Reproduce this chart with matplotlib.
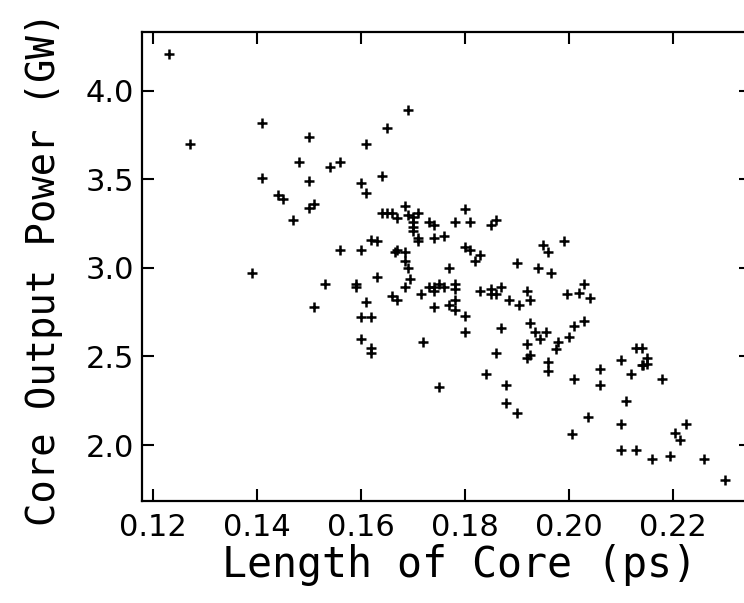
import matplotlib
matplotlib.use("Agg")
import matplotlib.pyplot as plt

# Data
length_ps = [
    0.123, 0.127, 0.141, 0.150, 0.161, 0.165, 0.169, 0.148, 0.154, 0.156,
    0.141, 0.150, 0.160, 0.164, 0.161, 0.144, 0.145, 0.150, 0.151, 0.147,
    0.164, 0.165, 0.166, 0.167, 0.162, 0.163, 0.156, 0.160, 0.1665, 0.167,
    0.139, 0.153, 0.159, 0.159, 0.163, 0.166, 0.167, 0.151, 0.161, 0.160,
    0.162, 0.160, 0.162, 0.162, 0.1685, 0.169, 0.170, 0.170, 0.170, 0.170,
    0.171, 0.173, 0.174, 0.171, 0.171, 0.174, 0.176, 0.178, 0.180, 0.181,
    0.185, 0.186, 0.1685, 0.1685, 0.169, 0.1695, 0.1685, 0.177, 0.180, 0.181,
    0.182, 0.183, 0.1715, 0.173, 0.174, 0.175, 0.174, 0.176, 0.178, 0.178,
    0.178, 0.177, 0.178, 0.174, 0.180, 0.180, 0.172, 0.175, 0.183, 0.185,
    0.185, 0.186, 0.187, 0.1885, 0.1905, 0.192, 0.1925, 0.190, 0.194, 0.195,
    0.196, 0.1965, 0.199, 0.1996, 0.202, 0.203, 0.204, 0.187, 0.1925, 0.1935,
    0.1945, 0.1956, 0.192, 0.192, 0.1925, 0.186, 0.196, 0.196, 0.198, 0.1976,
    0.200, 0.201, 0.203, 0.184, 0.188, 0.188, 0.190, 0.201, 0.2006, 0.2036,
    0.206, 0.206, 0.210, 0.212, 0.213, 0.214, 0.215, 0.215, 0.214, 0.2143,
    0.218, 0.211, 0.210, 0.210, 0.213, 0.216, 0.2195, 0.2205, 0.2215, 0.2226,
    0.226, 0.230,
]
power_gw = [
    4.21, 3.70, 3.82, 3.74, 3.70, 3.79, 3.89, 3.60, 3.57, 3.60,
    3.51, 3.49, 3.48, 3.52, 3.42, 3.41, 3.39, 3.34, 3.36, 3.27,
    3.31, 3.31, 3.31, 3.28, 3.16, 3.15, 3.10, 3.10, 3.09, 3.10,
    2.97, 2.91, 2.89, 2.91, 2.95, 2.84, 2.82, 2.78, 2.81, 2.72,
    2.72, 2.60, 2.55, 2.52, 3.35, 3.30, 3.29, 3.26, 3.23, 3.21,
    3.31, 3.26, 3.24, 3.17, 3.15, 3.17, 3.18, 3.26, 3.33, 3.26,
    3.24, 3.27, 3.09, 3.04, 3.00, 2.94, 2.89, 3.00, 3.12, 3.10,
    3.04, 3.07, 2.85, 2.89, 2.89, 2.91, 2.87, 2.89, 2.91, 2.88,
    2.82, 2.79, 2.76, 2.78, 2.73, 2.64, 2.58, 2.33, 2.87, 2.88,
    2.85, 2.85, 2.89, 2.82, 2.79, 2.87, 2.82, 3.03, 3.00, 3.13,
    3.09, 2.97, 3.15, 2.85, 2.86, 2.91, 2.83, 2.66, 2.69, 2.64,
    2.60, 2.64, 2.57, 2.49, 2.51, 2.52, 2.47, 2.42, 2.58, 2.54,
    2.61, 2.67, 2.70, 2.40, 2.34, 2.24, 2.18, 2.37, 2.06, 2.16,
    2.43, 2.34, 2.48, 2.40, 2.55, 2.55, 2.49, 2.46, 2.45, 2.45,
    2.37, 2.25, 2.12, 1.97, 1.97, 1.92, 1.94, 2.07, 2.03, 2.12,
    1.92, 1.80,
]
x_ticks = [0.12, 0.14, 0.16, 0.18, 0.20, 0.22]
x_tick_labels = ["0.12", "0.14", "0.16", "0.18", "0.20", "0.22"]
y_ticks = [2.0, 2.5, 3.0, 3.5, 4.0]
y_tick_labels = ["2.0", "2.5", "3.0", "3.5", "4.0"]
x_label = "Length of Core (ps)"
y_label = "Core Output Power (GW)"

fig = plt.figure(figsize=(7.44, 6.03), dpi=100)
ax = fig.add_axes([0.1913, 0.1697, 0.8176, 0.7768])

ax.plot(length_ps, power_gw, linestyle="none", marker="+", color="black",
        markersize=6.5, markeredgewidth=1.8)

ax.set_xlim(0.1179, 0.235)
ax.set_ylim(1.686, 4.33)

ax.set_xticks(x_ticks)
ax.set_xticklabels(x_tick_labels)
ax.set_yticks(y_ticks)
ax.set_yticklabels(y_tick_labels)

ax.tick_params(axis="both", which="major", direction="in", length=8.5,
               width=1.5, colors="black", top=True, right=True)
ax.tick_params(axis="x", pad=9, labelsize=22)
ax.tick_params(axis="y", pad=6, labelsize=22)
for lab in ax.get_xticklabels() + ax.get_yticklabels():
    lab.set_family("DejaVu Sans")

for sp in ax.spines.values():
    sp.set_linewidth(1.6)
    sp.set_color("black")

ax.set_xlabel(x_label, fontsize=30, family="DejaVu Sans Mono")
ax.set_ylabel(y_label, fontsize=28, family="DejaVu Sans Mono")
ax.xaxis.set_label_coords(0.521, -0.092)
ax.yaxis.set_label_coords(-0.130, 0.495)

fig.savefig("out.png", dpi=100)
